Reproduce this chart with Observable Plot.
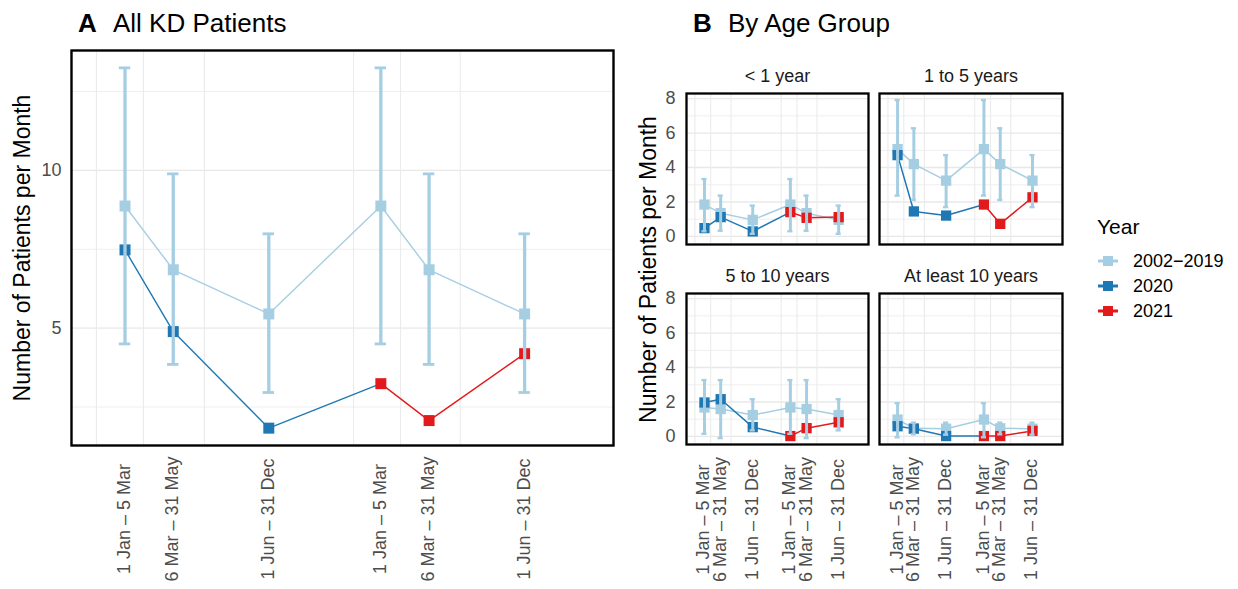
<!DOCTYPE html>
<html><head><meta charset="utf-8">
<script src="https://cdn.jsdelivr.net/npm/d3@7"></script>
<script src="https://cdn.jsdelivr.net/npm/@observablehq/plot@0.6"></script>
<style>
body{margin:0;background:#fff;font-family:"Liberation Sans",Arial,sans-serif}
#root{position:relative;width:1238px;height:589px;overflow:hidden;background:#fff}
.abs{position:absolute;white-space:nowrap;line-height:1}
#root svg{overflow:visible}
</style></head><body><div id="root"></div>
<script>
// ---- categories / ticks ----
const periods = ["1 Jan \u2013 5 Mar", "6 Mar \u2013 31 May", "1 Jun \u2013 31 Dec"];
const periodDay = [32, 108, 258.5, 435, 511, 661.5];     // x position of each period (2020 then 2021)
const gridDays = [-13, 61, 157, 392, 466, 560];          // vertical grid lines
const xDomain = [-52.3, 801.5];
const seriesNames = ["2002\u22122019", "2020", "2021"];
const colors = ["#a6cee3", "#1f78b4", "#e31a1c"];

// ---- Panel A: all KD patients ----
const allBase = [8.87, 6.85, 5.45];
const allBaseLo = [4.50, 3.85, 2.96];
const allBaseHi = [13.25, 9.89, 7.99];
const all2020 = [7.48, 4.89, 1.83];
const all2021 = [3.24, 2.07, 4.19];
const aTicks = [5, 10];
const aMinor = [2.5, 7.5, 12.5];

// ---- Panel B: by age group ----
const ageTitles = ["< 1 year", "1 to 5 years", "5 to 10 years", "At least 10 years"];
const lt1Base = [1.85, 1.35, 0.96], lt1Lo = [0.30, 0.33, 0.15], lt1Hi = [3.33, 2.37, 1.79];
const lt1Y2020 = [0.48, 1.12, 0.29], lt1Y2021 = [1.41, 1.08, 1.12];
const a1to5Base = [5.07, 4.20, 3.24], a1to5Lo = [2.37, 2.12, 1.70], a1to5Hi = [7.92, 6.28, 4.72];
const a1to5Y2020 = [4.72, 1.45, 1.21], a1to5Y2021 = [1.85, 0.73, 2.27];
const a5to10Base = [1.68, 1.59, 1.24], a5to10Lo = [0.15, -0.10, 0.35], a5to10Hi = [3.27, 3.27, 2.16];
const a5to10Y2020 = [1.97, 2.16, 0.54], a5to10Y2021 = [0.02, 0.48, 0.82];
const ge10Base = [0.98, 0.47, 0.45], ge10Lo = [-0.05, 0.12, 0.10], ge10Hi = [1.93, 0.80, 0.80];
const ge10Y2020 = [0.59, 0.45, 0.02], ge10Y2021 = [0.02, 0.02, 0.32];
const bTicks = [0, 2, 4, 6, 8];
const bMinor = [1, 3, 5, 7];

function build(base, lo, hi, v20, v21) {
  const baseRows = periodDay.map((x, i) => ({x, y: base[i % 3], lo: lo[i % 3], hi: hi[i % 3]}));
  const r20 = v20.map((y, i) => ({x: periodDay[i], y}));
  const r21 = v21.map((y, i) => ({x: periodDay[i + 3], y}));
  return {baseRows, r20, r21, line20: [...r20, r21[0]]};
}
const xLabelRows = periodDay.map((x, i) => ({x, label: periods[i % 3]}));

function dataMarks(d, s) {
  return [
    Plot.ruleY(s.minor, {stroke: "#ebebeb", strokeWidth: 0.8}),
    Plot.ruleY(s.major, {stroke: "#e8e8e8", strokeWidth: 1.4}),
    Plot.ruleX(gridDays, {stroke: "#ebebeb", strokeWidth: 1.1}),
    Plot.line(d.baseRows, {x: "x", y: "y", stroke: colors[0], strokeWidth: s.lw}),
    Plot.line(d.line20, {x: "x", y: "y", stroke: colors[1], strokeWidth: s.lw}),
    Plot.line(d.r21, {x: "x", y: "y", stroke: colors[2], strokeWidth: s.lw}),
    Plot.dot(d.baseRows, {x: "x", y: "y", r: s.r, symbol: "square", fill: colors[0], stroke: "none"}),
    Plot.dot(d.r20, {x: "x", y: "y", r: s.r, symbol: "square", fill: colors[1], stroke: "none"}),
    Plot.dot(d.r21, {x: "x", y: "y", r: s.r, symbol: "square", fill: colors[2], stroke: "none"}),
    Plot.ruleX(d.baseRows, {x: "x", y1: "lo", y2: "hi", stroke: colors[0], strokeWidth: s.bw}),
    Plot.ruleY(d.baseRows, {y: "lo", x1: r => r.x - s.cap, x2: r => r.x + s.cap, stroke: colors[0], strokeWidth: s.capW}),
    Plot.ruleY(d.baseRows, {y: "hi", x1: r => r.x - s.cap, x2: r => r.x + s.cap, stroke: colors[0], strokeWidth: s.capW}),
    Plot.frame({stroke: "black", strokeWidth: s.frameW})
  ];
}

const root = document.getElementById("root");
const baseStyle = {background: "none", overflow: "visible", fontFamily: "Liberation Sans, Arial, sans-serif", fontSize: "18px"};

function place(el, left, top) {
  el.style.position = "absolute";
  el.style.left = left + "px";
  el.style.top = top + "px";
  root.appendChild(el);
}

// ---- Panel A ----
const dA = build(allBase, allBaseLo, allBaseHi, all2020, all2021);
const plotA = Plot.plot({
  width: 620, height: 589,
  marginLeft: 71, marginRight: 7, marginTop: 50, marginBottom: 144,
  style: baseStyle,
  x: {domain: xDomain, axis: null},
  y: {domain: [1.28, 13.8]},
  marks: [
    ...dataMarks(dA, {minor: aMinor, major: aTicks, lw: 1.4, r: 6.2, bw: 3.3, cap: 9, capW: 2.8, frameW: 2.4}),
    Plot.axisY(aTicks, {tickSize: 0, tickPadding: 10, label: null, fontSize: 18, color: "#4d4d4d"}),
    Plot.text(xLabelRows, {x: "x", text: "label", frameAnchor: "bottom", rotate: -90, dx: 5, dy: 73.5, fontSize: 18, fill: "#4d4d4d", textAnchor: "middle"}),
    Plot.text(["Number of Patients per Month"], {frameAnchor: "left", rotate: -90, textAnchor: "middle", dx: -49, fontSize: 23, fill: "black"})
  ]
});
place(plotA, 0, 0);

// ---- Panel B facets ----
const groups = [
  build(lt1Base, lt1Lo, lt1Hi, lt1Y2020, lt1Y2021),
  build(a1to5Base, a1to5Lo, a1to5Hi, a1to5Y2020, a1to5Y2021),
  build(a5to10Base, a5to10Lo, a5to10Hi, a5to10Y2020, a5to10Y2021),
  build(ge10Base, ge10Lo, ge10Hi, ge10Y2020, ge10Y2021)
];
const colLeft = [686, 879], colWidth = [182, 183];
const rowTop = [93, 293], rowHeight = 151;

groups.forEach((d, gi) => {
  const col = gi % 2, row = Math.floor(gi / 2);
  const mL = col === 0 ? 40 : 4, mT = 30, mR = 4, mB = row === 1 ? 589 - (rowTop[1] + rowHeight) : 4;
  const marks = [
    ...dataMarks(d, {minor: bMinor, major: bTicks, lw: 1.5, r: 5.8, bw: 3, cap: 12, capW: 2.4, frameW: 2.3}),
    Plot.text([ageTitles[gi]], {frameAnchor: "top", textAnchor: "middle", lineAnchor: "bottom", dy: -12, fontSize: 18, fill: "#1a1a1a"})
  ];
  if (col === 0) marks.push(Plot.axisY(bTicks, {tickSize: 0, tickPadding: 11, label: null, fontSize: 18, color: "#4d4d4d"}));
  if (row === 1) marks.push(Plot.text(xLabelRows, {x: "x", text: "label", frameAnchor: "bottom", rotate: -90, dx: 5, dy: 75, fontSize: 18, fill: "#4d4d4d", textAnchor: "middle"}));
  if (col === 0 && row === 1) marks.push(Plot.text(["Number of Patients per Month"], {frameAnchor: "top-left", rotate: -90, textAnchor: "middle", dx: -47, dy: -24, fontSize: 23, fill: "black"}));
  const p = Plot.plot({
    width: mL + colWidth[col] + mR, height: mT + rowHeight + mB,
    marginLeft: mL, marginRight: mR, marginTop: mT, marginBottom: mB,
    style: baseStyle,
    x: {domain: xDomain, axis: null},
    y: {domain: [-0.47, 8.3], axis: col === 0 ? undefined : null},
    marks
  });
  place(p, colLeft[col] - mL, rowTop[row] - mT);
});

// ---- Titles ----
function addText(txt, left, baseline, size, bold, color) {
  const el = document.createElement("div");
  el.className = "abs";
  el.textContent = txt;
  el.style.fontSize = size + "px";
  el.style.fontWeight = bold ? "bold" : "normal";
  el.style.color = color || "#000";
  place(el, left, baseline - 0.83 * size);
  return el;
}
addText("A", 78, 32, 26, true);
addText("All KD Patients", 113, 32, 26, false);
addText("B", 693, 32, 26, true);
addText("By Age Group", 728, 32, 26, false);

// ---- Legend ----
addText("Year", 1097, 233, 21, false);
const legendBaselines = [267, 292, 317];
seriesNames.forEach((name, i) => {
  addText(name, 1133, legendBaselines[i], 18, false);
  const sw = document.createElementNS("http://www.w3.org/2000/svg", "svg");
  sw.setAttribute("width", 24); sw.setAttribute("height", 16);
  sw.innerHTML = `<line x1="2" x2="22" y1="8" y2="8" stroke="${colors[i]}" stroke-width="3"/>` +
    `<rect x="7" y="3" width="10" height="10" fill="${colors[i]}"/>`;
  place(sw, 1096, legendBaselines[i] - 6.4 - 8);
});
</script></body></html>
